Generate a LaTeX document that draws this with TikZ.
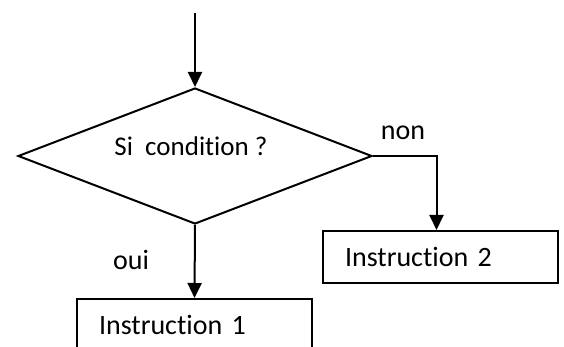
\documentclass[tikz,border=0pt]{standalone}
\usepackage{fontspec}
\setmainfont{Carlito}[Ligatures=NoCommon]
\usetikzlibrary{shapes.geometric,arrows.meta}

\begin{document}
\begin{tikzpicture}[
    x=0.5pt, y=-0.5pt,
    line width=1pt,
    arr/.style={-{Triangle[length=7.5pt,width=7pt]}},
    lab/.style={font=\fontsize{14}{16}\selectfont, black},
    instr/.style={rectangle, draw=black, lab, text width=95.5pt,
      align=left, inner xsep=11pt, minimum height=26pt},
  ]
  \clip (0,0) rectangle (564,347);

  \node[
    diamond, draw=black, inner sep=0pt,
    minimum width=177pt, minimum height=68pt,
  ] (test) at (195,156) {};
  \node[font=\fontsize{13.5}{16}\selectfont] (cond) at (191,146) {Si\ \ condition ?};

  \node[instr] (instr1) at (194.5,325) {Instruction 1};
  \node[instr] (instr2) at (440.5,257) {Instruction 2};

  \node[lab] (non) at (403,133) {non};
  \node[lab] (oui) at (131,260) {oui};

  \coordinate (start) at (195,13);
  \draw[arr] (start) -- (test.north);
  \draw[arr] (test.south) -- (instr1.north);
  \draw[arr] (test.east) -| ([xshift=-2pt]instr2.north);
\end{tikzpicture}
\end{document}
